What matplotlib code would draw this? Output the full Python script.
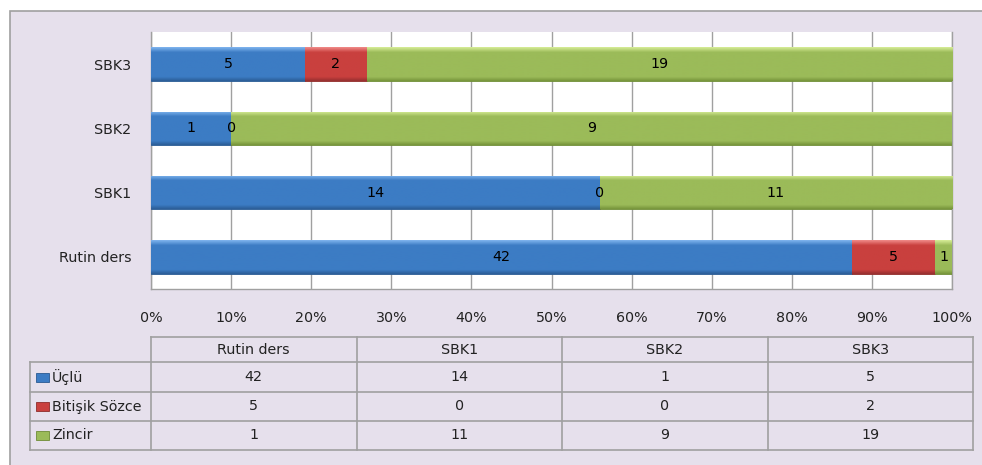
import numpy as np
import matplotlib
matplotlib.use("Agg")
import matplotlib.pyplot as plt
from matplotlib.patches import Rectangle
from matplotlib.lines import Line2D

categories = ["Rutin ders", "SBK1", "SBK2", "SBK3"]
series_names = ["Üçlü", "Bitişik Sözce", "Zincir"]
ucclu = [42, 14, 1, 5]
bitisik = [5, 0, 0, 2]
zincir = [1, 11, 9, 19]
xtick_labels = ["0%", "10%", "20%", "30%", "40%", "50%", "60%", "70%", "80%", "90%", "100%"]

colors = ["#3C7CC4", "#C9403E", "#9BBB59"]
tops = ["#7FB4EE", "#F08A88", "#D6EC96"]
bottoms = ["#2C5E98", "#983030", "#78963C"]
edges = ["#2A5A92", "#8E2C2A", "#6E8C36"]

W, H = 982, 465
fig = plt.figure(figsize=(W / 100, H / 100), dpi=100)
fig.patch.set_facecolor("white")
BG = "#E6E0EC"
TC = "#222222"
fig.patches.append(Rectangle((10 / W, -0.1), 1.2, (H - 11) / H + 0.1, transform=fig.transFigure,
                             facecolor=BG, edgecolor="#A0A0A0", linewidth=1.2, zorder=-10))

FS = 10.3
ax = fig.add_axes([151 / W, 1 - 289 / H, 801 / W, 257 / H])
ax.set_facecolor("white")

data = [ucclu, bitisik, zincir]
totals = np.sum(np.array(data, dtype=float), axis=0)
y = np.arange(len(categories))
left = np.zeros(len(categories))
bh = 0.52
for i, vals in enumerate(data):
    pct = np.array(vals) / totals * 100
    bars = ax.barh(y, pct, left=left, height=bh, color=colors[i], edgecolor=edges[i],
                   linewidth=0.6, zorder=3)
    for rect in bars:
        x0, y0, w, h = rect.get_x(), rect.get_y(), rect.get_width(), rect.get_height()
        if w <= 0:
            continue
        n = 64
        t = np.linspace(0, 1, n)
        c_mid = np.array(matplotlib.colors.to_rgb(colors[i]))
        c_top = np.array(matplotlib.colors.to_rgb(tops[i]))
        c_bot = np.array(matplotlib.colors.to_rgb(bottoms[i]))
        grad = np.zeros((n, 1, 3))
        for k, tt in enumerate(t):  # tt = 0 bottom, 1 top
            if tt > 0.85:
                a = (tt - 0.85) / 0.15
                grad[k, 0] = c_mid * (1 - a) + c_top * a
            elif tt < 0.12:
                a = (0.12 - tt) / 0.12
                grad[k, 0] = c_mid * (1 - a) + c_bot * a
            else:
                grad[k, 0] = c_mid
        im = ax.imshow(grad, extent=[x0, x0 + w, y0, y0 + h], aspect="auto", origin="lower",
                       zorder=3.5, interpolation="bilinear")
        im.set_clip_path(rect)
    for j, v in enumerate(vals):
        ax.text(left[j] + pct[j] / 2, y[j], str(v), ha="center", va="center", fontsize=FS,
                color="black", zorder=5)
    left = left + pct

ax.set_xlim(0, 100)
ax.set_ylim(-0.5, len(categories) - 0.5)
ax.set_xticks(np.arange(0, 101, 10))
ax.set_xticklabels(xtick_labels, fontsize=FS, color=TC)
ax.set_yticks(y)
ax.set_yticklabels(categories, fontsize=FS, color=TC)
ax.tick_params(axis="both", length=0)
ax.tick_params(axis="x", pad=15.5)
ax.tick_params(axis="y", pad=14)
ax.grid(axis="x", color="#A0A0A0", linewidth=1.0, zorder=0)
ax.set_axisbelow(True)
for s in ["left", "bottom", "right"]:
    ax.spines[s].set_color("#A0A0A0")
    ax.spines[s].set_linewidth(1.0)
ax.spines["top"].set_visible(False)

# data table
LC = "#A0A0A0"
def fx(px):
    return px / W
def fy(py):
    return 1 - py / H

col_edges = [151, 356.5, 562, 767.5, 973]
row_edges = [337.3, 361.7, 392.3, 420.7, 450]
lab_left = 30

def hline(x0, x1, yy):
    fig.add_artist(Line2D([fx(x0), fx(x1)], [fy(yy), fy(yy)], color=LC, linewidth=1.2))
def vline(xx, y0, y1):
    fig.add_artist(Line2D([fx(xx), fx(xx)], [fy(y0), fy(y1)], color=LC, linewidth=1.2))

hline(col_edges[0], col_edges[-1], row_edges[0])
for r in row_edges[1:]:
    hline(lab_left, col_edges[-1], r)
vline(lab_left, row_edges[1], row_edges[-1])
for c in col_edges:
    vline(c, row_edges[0], row_edges[-1])

for j, cat in enumerate(categories):
    cx = (col_edges[j] + col_edges[j + 1]) / 2
    cy = (row_edges[0] + row_edges[1]) / 2
    fig.text(fx(cx), fy(cy), cat, ha="center", va="center", fontsize=FS, color=TC)

for i, (name, vals) in enumerate(zip(series_names, data)):
    cy = (row_edges[i + 1] + row_edges[i + 2]) / 2
    fig.patches.append(Rectangle((fx(36), fy(cy + 4.5)), 13 / W, 9 / H, transform=fig.transFigure,
                                 facecolor=colors[i], edgecolor=edges[i], linewidth=0.6))
    fig.text(fx(52), fy(cy), name, ha="left", va="center", fontsize=FS, color=TC)
    for j, v in enumerate(vals):
        cx = (col_edges[j] + col_edges[j + 1]) / 2
        fig.text(fx(cx), fy(cy), str(v), ha="center", va="center", fontsize=FS, color=TC)

fig.savefig("out.png", dpi=100, facecolor=fig.get_facecolor())
